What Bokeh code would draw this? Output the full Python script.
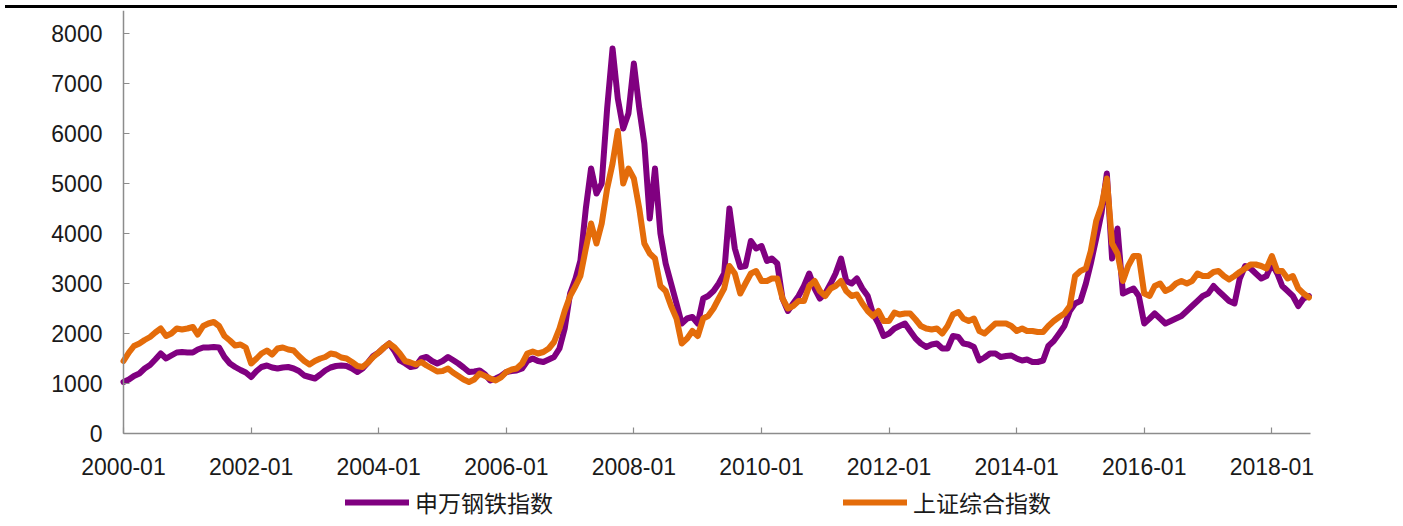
import pandas as pd
from bokeh.plotting import figure
from bokeh.models import Range1d, FixedTicker, DatetimeTickFormatter, Legend, LegendItem, Div
from bokeh.layouts import column
from bokeh.embed import file_html
from bokeh.resources import INLINE

# Monthly index levels, Jan 2000 - Aug 2018
first_month = "2000-01-01"

steel_index = [
    1030, 1080, 1150, 1200, 1300, 1370, 1480, 1600, 1500, 1560, 1620, 1630,  # 2000
    1620, 1620, 1680, 1720, 1720, 1730, 1720, 1530, 1400, 1330, 1270, 1220,  # 2001
    1130, 1250, 1330, 1360, 1320, 1300, 1320, 1330, 1300, 1250, 1160, 1130,  # 2002
    1100, 1180, 1260, 1320, 1350, 1360, 1350, 1300, 1230, 1300, 1420, 1550,  # 2003
    1620, 1720, 1800, 1650, 1460, 1400, 1330, 1350, 1500, 1530, 1450, 1400,  # 2004
    1450, 1530, 1470, 1400, 1320, 1230, 1240, 1260, 1180, 1060, 1100, 1150,  # 2005
    1230, 1250, 1260, 1300, 1450, 1500, 1450, 1430, 1480, 1530, 1700, 2100,  # 2006
    2800, 3100, 3460, 4500, 5300, 4800, 5000, 6500, 7700, 6700, 6100, 6400,  # 2007
    7400, 6500, 5800, 4300, 5300, 4000, 3400, 3000, 2600, 2200, 2300, 2330,  # 2008
    2200, 2700, 2750, 2850, 3000, 3200, 4500, 3700, 3330, 3350, 3850, 3700,  # 2009
    3750, 3450, 3500, 3400, 2700, 2450, 2600, 2750, 2950, 3200, 2900, 2700,  # 2010
    2800, 3000, 3200, 3500, 3050, 3000, 3100, 2900, 2750, 2400, 2200, 1950,  # 2011
    2000, 2100, 2150, 2200, 2050, 1900, 1800, 1730, 1780, 1800, 1700, 1700,  # 2012
    1950, 1930, 1800, 1780, 1730, 1460, 1520, 1600, 1600, 1530, 1550, 1560,  # 2013
    1500, 1460, 1480, 1430, 1430, 1460, 1750, 1850, 2000, 2150, 2450, 2600,  # 2014
    2650, 3000, 3400, 3900, 4400, 5200, 3500, 4100, 2800, 2850, 2900, 2750,  # 2015
    2200, 2300, 2400, 2300, 2200, 2250, 2300, 2350, 2450, 2550, 2650, 2750,  # 2016
    2800, 2950, 2850, 2750, 2650, 2600, 3100, 3350, 3300, 3200, 3100, 3150,  # 2017
    3400, 3200, 2950, 2850, 2750, 2550, 2700, 2750,                          # 2018
]

composite_index = [
    1450, 1620, 1750, 1800, 1870, 1930, 2020, 2100, 1950, 2000, 2100, 2080,  # 2000
    2100, 2130, 1980, 2150, 2200, 2230, 2150, 1950, 1860, 1760, 1780, 1720,  # 2001
    1400, 1500, 1600, 1660, 1580, 1700, 1720, 1680, 1660, 1550, 1450, 1380,  # 2002
    1450, 1500, 1530, 1600, 1580, 1520, 1500, 1430, 1350, 1330, 1420, 1530,  # 2003
    1620, 1720, 1800, 1720, 1600, 1450, 1420, 1380, 1430, 1360, 1300, 1240,  # 2004
    1250, 1300, 1220, 1150, 1080, 1030, 1080, 1200, 1150, 1100, 1060, 1120,  # 2005
    1230, 1280, 1300, 1400, 1600, 1640, 1600, 1630, 1700, 1830, 2100, 2450,  # 2006
    2750, 2950, 3150, 3700, 4200, 3800, 4200, 4900, 5400, 6050, 5000, 5300,  # 2007
    5100, 4500, 3800, 3600, 3500, 2950, 2850, 2550, 2300, 1800, 1900, 2050,  # 2008
    1950, 2300, 2350, 2500, 2700, 2900, 3350, 3200, 2800, 3000, 3200, 3250,  # 2009
    3050, 3050, 3100, 3100, 2700, 2500, 2550, 2650, 2650, 2950, 3050, 2850,  # 2010
    2750, 2900, 2950, 3050, 2850, 2750, 2780, 2600, 2450, 2350, 2450, 2250,  # 2011
    2250, 2420, 2380, 2400, 2400, 2280, 2150, 2100, 2080, 2100, 2000, 2150,  # 2012
    2380, 2430, 2300, 2250, 2300, 2050, 2000, 2100, 2200, 2200, 2200, 2150,  # 2013
    2050, 2100, 2050, 2050, 2030, 2030, 2150, 2250, 2330, 2400, 2550, 3150,  # 2014
    3250, 3300, 3650, 4250, 4550, 5100, 3800, 3600, 3050, 3350, 3550, 3550,  # 2015
    2800, 2750, 2950, 3000, 2850, 2900, 3000, 3050, 3000, 3050, 3200, 3150,  # 2016
    3150, 3230, 3250, 3150, 3080, 3150, 3230, 3300, 3380, 3380, 3350, 3300,  # 2017
    3550, 3250, 3250, 3100, 3150, 2900, 2800, 2720,                          # 2018
]

series_names = ["申万钢铁指数", "上证综合指数"]
series_colors = ["#800080", "#E46C0A"]

x_tick_labels = ["2000-01", "2002-01", "2004-01", "2006-01", "2008-01",
                 "2010-01", "2012-01", "2014-01", "2016-01", "2018-01"]
y_ticks = [0, 1000, 2000, 3000, 4000, 5000, 6000, 7000, 8000]

months = pd.date_range(first_month, periods=len(steel_index), freq="MS")
tick_ms = [pd.Timestamp(lbl + "-01").value // 10**6 for lbl in x_tick_labels]

label_font = "Liberation Sans"

# The plotting frame fills the whole canvas; both axes are pinned inside it
# (date axis on y = 0, value axis on the first month) with bounded lines, so
# the tick labels and the legend strip below the axis stay visible.
W, H = 1403, 518
axis_left_px, axis_right_px = 123, 1310
axis_start = pd.Timestamp("2000-01-01").value // 10**6
axis_end = pd.Timestamp("2018-08-10").value // 10**6
ms_per_px = (axis_end - axis_start) / (axis_right_px - axis_left_px)
x_lo = axis_start - axis_left_px * ms_per_px
x_hi = axis_end + (W - axis_right_px) * ms_per_px

p = figure(width=W, height=H, x_axis_type="datetime",
           output_backend="svg", toolbar_location=None,
           x_range=Range1d(x_lo, x_hi),
           y_range=Range1d(-1860, 8460),
           min_border_left=0, min_border_right=0,
           min_border_top=2, min_border_bottom=0)
p.outline_line_color = None
p.xgrid.visible = False
p.ygrid.visible = False
p.background_fill_color = "white"
p.border_fill_color = "white"

r_steel = p.line(months, steel_index, color=series_colors[0], line_width=6,
                 line_join="round", line_cap="round")
r_comp = p.line(months, composite_index, color=series_colors[1], line_width=6,
                line_join="round", line_cap="round")

for ax in (p.xaxis[0], p.yaxis[0]):
    ax.axis_line_color = "#8c8c8c"
    ax.axis_line_width = 1.5
    ax.major_tick_line_color = "#8c8c8c"
    ax.major_tick_line_width = 1.2
    ax.major_tick_in = 6
    ax.major_tick_out = 0
    ax.minor_tick_line_color = None
    ax.major_label_text_font = label_font
    ax.major_label_text_font_size = "23px"
    ax.major_label_text_color = "#1a1a1a"

p.xaxis.ticker = FixedTicker(ticks=tick_ms)
p.xaxis.formatter = DatetimeTickFormatter(years="%Y-%m", months="%Y-%m", days="%Y-%m")
p.xaxis.major_label_standoff = 24
p.xaxis.fixed_location = 0
p.xaxis.bounds = (axis_start, axis_end)
p.yaxis.ticker = FixedTicker(ticks=y_ticks)
p.yaxis.major_label_standoff = 21
p.yaxis.fixed_location = axis_start
p.yaxis.bounds = (0, 8460)

legend = Legend(items=[LegendItem(label=series_names[0], renderers=[r_steel]),
                       LegendItem(label=series_names[1], renderers=[r_comp])],
                orientation="horizontal", location=(345, 7),
                glyph_width=64, glyph_height=24, label_height=24, label_width=140,
                label_standoff=6, spacing=288, padding=0, margin=0,
                border_line_color=None, background_fill_alpha=0,
                label_text_font="Noto Sans CJK SC", label_text_font_size="23px",
                label_text_color="#1a1a1a")
p.add_layout(legend)

top_rule = Div(text="", width=1392, height=3, margin=(5, 0, 0, 5),
               styles={"background-color": "#000000"})

page = column(top_rule, p, spacing=0)
open("out.html", "w").write(file_html(page, INLINE))
